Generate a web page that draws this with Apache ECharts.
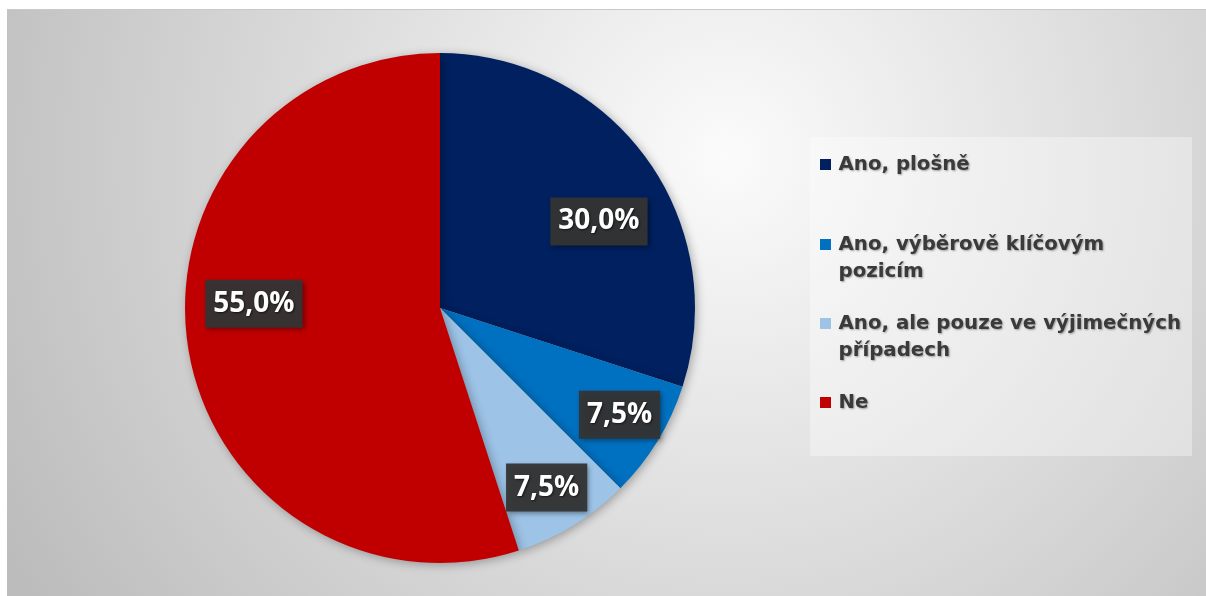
<!DOCTYPE html>
<html>
<head>
<meta charset="utf-8">
<script src="https://cdn.jsdelivr.net/npm/echarts@6/dist/echarts.min.js"></script>
<style>
html,body{margin:0;padding:0;background:#fff;width:1206px;height:596px;overflow:hidden;}
#chart{position:absolute;left:7px;top:9px;width:1199px;height:587px;border-top:1px solid #c9c9c9;box-sizing:border-box;}
</style>
</head>
<body>
<div id="chart"></div>
<script>
const categories = ['Ano, plošně', 'Ano, výběrově klíčovým pozicím', 'Ano, ale pouze ve výjimečných případech', 'Ne'];
const values = [30.0, 7.5, 7.5, 55.0];
const colors = ['#002060', '#0070C0', '#9DC3E6', '#C00000'];
const legendLines = {
  'Ano, plošně': 'Ano, plošně',
  'Ano, výběrově klíčovým pozicím': '\nAno, výběrově klíčovým\npozicím',
  'Ano, ale pouze ve výjimečných případech': '\nAno, ale pouze ve výjimečných\npřípadech',
  'Ne': 'Ne'
};

const chart = echarts.init(document.getElementById('chart'));
const data = categories.map((c, i) => ({ name: c, value: values[i], itemStyle: { color: colors[i] } }));

const legendTops = [141, 194, 273, 379];
const legends = categories.map((c, i) => ({
  data: [c],
  left: 813,
  top: legendTops[i],
  orient: 'vertical',
  padding: 0,
  icon: 'path://M0,0h10v10h-10z',
  itemWidth: 16,
  itemHeight: 11,
  itemGap: 0,
  selectedMode: false,
  formatter: n => legendLines[n],
  textStyle: {
    fontFamily: 'DejaVu Sans',
    fontWeight: 'bold',
    fontSize: 19.8,
    color: '#3a3a3a',
    lineHeight: 27,
    textShadowColor: 'rgba(0,0,0,0.35)',
    textShadowBlur: 2,
    textShadowOffsetX: 1,
    textShadowOffsetY: 1
  }
}));

// small nudges so the boxed labels sit where the reference places them
const labelNudge = [[0, 29], [12, 4], [4, 12], [8, -35]];

const option = {
  animation: false,
  backgroundColor: {
    type: 'radial', x: 0.6, y: 0.25, r: 1.4,
    colorStops: [
      { offset: 0, color: '#fbfbfb' },
      { offset: 1, color: '#bcbcbc' }
    ]
  },
  graphic: [{
    type: 'rect',
    shape: { x: 803, y: 127, width: 382, height: 319 },
    style: { fill: 'rgba(255,255,255,0.35)' },
    z: 0
  }],
  legend: legends,
  series: [
    {
      type: 'pie',
      center: [433, 298],
      radius: [0, 255],
      startAngle: 90,
      clockwise: true,
      silent: true,
      label: { show: false },
      labelLine: { show: false },
      itemStyle: {
        borderWidth: 0,
        shadowBlur: 10,
        shadowColor: 'rgba(0,0,0,0.3)',
        shadowOffsetX: 2,
        shadowOffsetY: 2
      },
      data: data
    },
    {
      type: 'pie',
      center: [433, 298],
      radius: [132, 255],
      startAngle: 90,
      clockwise: true,
      silent: true,
      z: 5,
      itemStyle: { color: 'rgba(0,0,0,0)' },
      labelLayout: p => ({ dx: labelNudge[p.dataIndex][0], dy: labelNudge[p.dataIndex][1] }),
      label: {
        show: true,
        position: 'inside',
        formatter: p => p.value.toFixed(1).replace('.', ',') + '%',
        fontFamily: 'Open Sans',
        fontWeight: 'bold',
        fontSize: 28,
        color: '#ffffff',
        backgroundColor: 'rgba(52,52,52,0.95)',
        padding: [12, 8, 8, 8],
        textShadowColor: 'rgba(0,0,0,0.6)',
        textShadowBlur: 2,
        textShadowOffsetX: 1,
        textShadowOffsetY: 1,
        shadowColor: 'rgba(0,0,0,0.4)',
        shadowBlur: 5,
        shadowOffsetX: 2,
        shadowOffsetY: 2
      },
      labelLine: { show: false },
      data: categories.map((c, i) => ({ name: c, value: values[i] }))
    }
  ]
};
chart.setOption(option);
</script>
</body>
</html>
